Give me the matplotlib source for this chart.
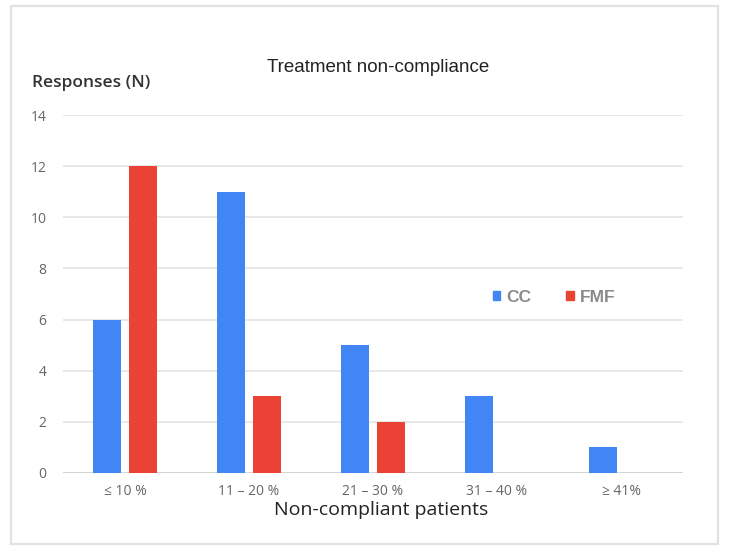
import matplotlib
matplotlib.use("Agg")
import matplotlib.pyplot as plt
from matplotlib.patches import Rectangle, Patch
import numpy as np

categories = ["≤ 10 %", "11 – 20 %", "21 – 30 %", "31 – 40 %", "≥ 41%"]
cc_values = [6, 11, 5, 3, 1]
fmf_values = [12, 3, 2, 0, 0]
y_ticks = [0, 2, 4, 6, 8, 10, 12, 14]

W, H = 730, 554
fig = plt.figure(figsize=(W / 100, H / 100), dpi=100)
fig.patch.set_facecolor("white")

# outer frame
fig.patches.append(Rectangle((11 / W, 1 - 544 / H), (718 - 11) / W, (544 - 6) / H,
                             transform=fig.transFigure, fill=False,
                             edgecolor="#e2e2e2", linewidth=1.6))

ax = fig.add_axes([63 / W, 1 - 473 / H, (683 - 63) / W, (473 - 115) / H])
x = np.arange(len(categories))
bw = 0.222
off = 0.145
ax.bar(x - off, cc_values, width=bw, color="#4285F4", zorder=3)
fmf_x = [xi + off for xi, v in zip(x, fmf_values) if v > 0]
fmf_v = [v for v in fmf_values if v > 0]
ax.bar(fmf_x, fmf_v, width=bw, color="#EA4335", zorder=3)

ax.set_xlim(-0.5, len(categories) - 0.5)
ax.set_ylim(0, 14)
ax.set_yticks(y_ticks)
ax.set_yticklabels([str(t) for t in y_ticks])
ax.set_xticks(x)
ax.set_xticklabels(categories)
for s in ax.spines.values():
    s.set_visible(False)
ax.tick_params(axis="both", length=0, colors="#666666", labelsize=10)
ax.tick_params(axis="y", pad=12)
ax.tick_params(axis="x", pad=8)
for t in ax.get_xticklabels() + ax.get_yticklabels():
    t.set_fontfamily("Open Sans")
    t.set_fontweight("medium")
ax.grid(axis="y", color="#e4e4e4", linewidth=1.2, zorder=0)
ax.axhline(0, color="#d0d0d0", linewidth=1.2, zorder=2)

fig.text(378 / W, 1 - 68 / H, "Treatment non-compliance", ha="center", va="center",
         fontsize=13.5, family="Liberation Sans", color="#222222")
fig.text(32 / W, 1 - 83 / H, "Responses (N)", ha="left", va="center",
         fontsize=12.5, family="Open Sans", fontweight="semibold", color="#333333")
fig.text(381 / W, 1 - 510 / H, "Non-compliant patients", ha="center", va="center",
         fontsize=14, family="Open Sans", color="#222222")

handles = [Patch(color="#4285F4", label="CC"), Patch(color="#EA4335", label="FMF")]
leg = fig.legend(handles=handles, loc="center left", bbox_to_anchor=(493 / W, 1 - 297 / H),
                 ncol=2, frameon=False, borderpad=0, borderaxespad=0,
                 handlelength=0.42, handleheight=0.42,
                 handletextpad=0.36, columnspacing=2.0,
                 prop={"family": "Liberation Sans", "size": 12.5, "weight": "bold"})
for t in leg.get_texts():
    t.set_color("#8a8a8a")

fig.savefig("out.png", dpi=100, facecolor="white")
